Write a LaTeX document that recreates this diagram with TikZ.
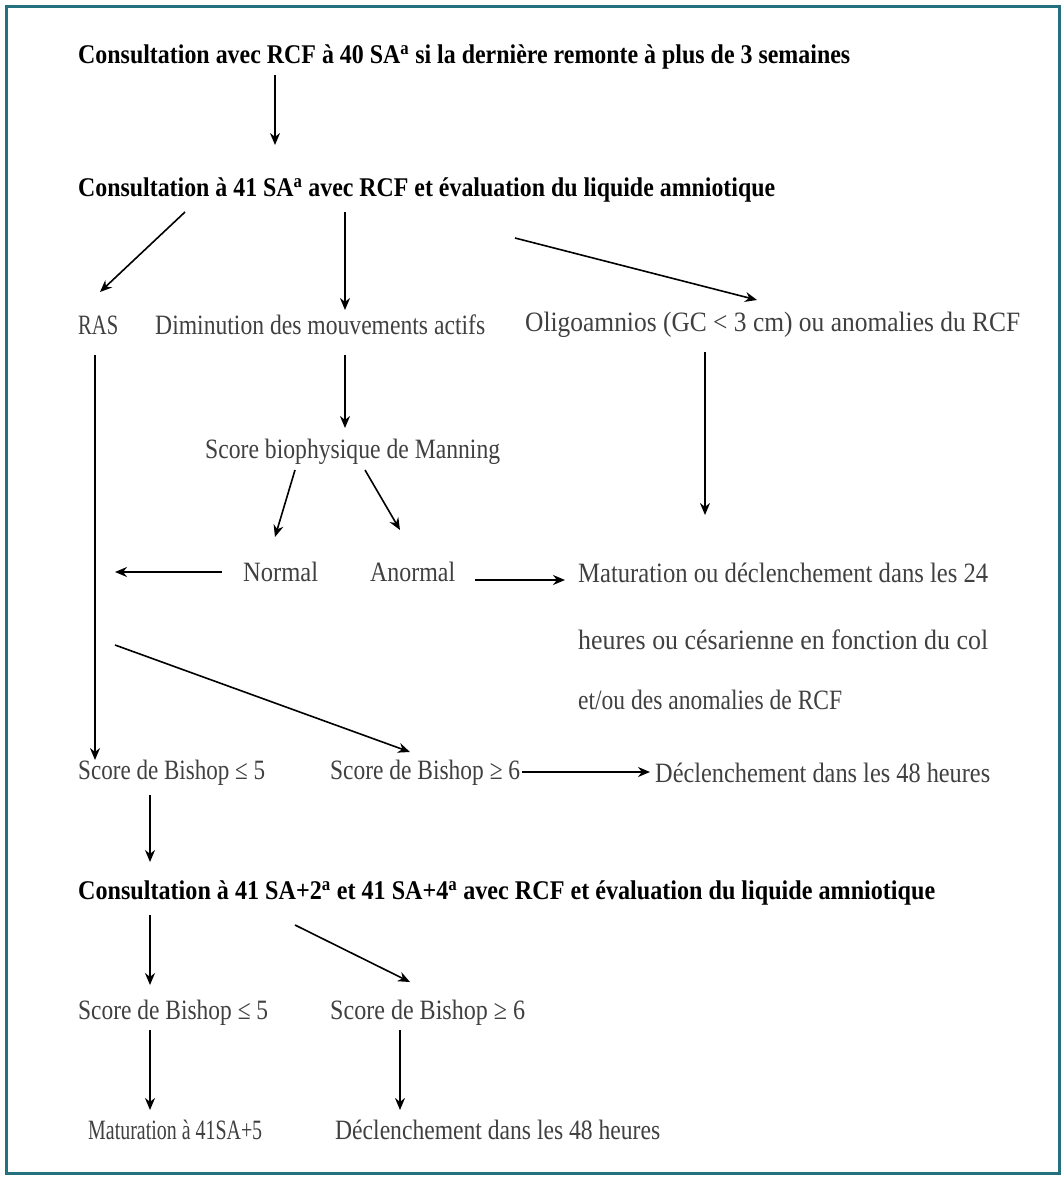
\documentclass[tikz,border=0pt]{standalone}
\usepackage{fontspec}
\setmainfont{Liberation Serif}
\usepackage{graphicx}
\usetikzlibrary{arrows.meta}
\definecolor{frameteal}{HTML}{23707F}
\definecolor{txtgray}{HTML}{404040}
\newcommand{\fw}[2]{\resizebox{#1pt}{\height}{#2}}
\begin{document}
\begin{tikzpicture}[x=1pt,y=-1pt,
  lbl/.style={inner sep=0pt,anchor=west,text=txtgray,font=\fontsize{28}{30}\selectfont},
  ttl/.style={inner sep=0pt,anchor=west,text=black,font=\fontsize{27}{30}\selectfont\bfseries},
  arr/.style={draw=black,line width=1.6pt,-{Stealth[length=12pt,width=10pt]}},
  ln/.style={draw=black,line width=1.6pt}]
\useasboundingbox (0,0) rectangle (1064,1184);
\fill[white] (0,0) rectangle (1064,1184);
\draw[frameteal,line width=3pt] (6,6) rectangle (1059,1173);

\node[ttl] (t1) at (78,57) {\fw{772}{Consultation avec RCF à 40 SA\textsuperscript{a} si la dernière remonte à plus de 3 semaines}};
\node[ttl] (t2) at (78,190) {\fw{697}{Consultation à 41 SA\textsuperscript{a} avec RCF et évaluation du liquide amniotique}};
\node[lbl] (ras) at (78,325) {\fw{40}{RAS}};
\node[lbl] (dim) at (155,325) {\fw{330}{Diminution des mouvements actifs}};
\node[lbl] (oli) at (525,325) {\fw{495}{Oligoamnios (GC < 3 cm) ou anomalies du RCF}};
\node[lbl] (man) at (205,452) {\fw{295}{Score biophysique de Manning}};
\node[lbl] (nor) at (243,572) {\fw{75}{Normal}};
\node[lbl] (anor) at (370,572) {\fw{85}{Anormal}};
\node[lbl] (mat1) at (578,573) {\fw{410}{Maturation ou déclenchement dans les 24}};
\node[lbl] (mat2) at (578,640) {\fw{410}{heures ou césarienne en fonction du col}};
\node[lbl] (mat3) at (578,700) {\fw{264}{et/ou des anomalies de RCF}};
\node[lbl] (b5) at (78,773) {\fw{187}{Score de Bishop ≤ 5}};
\node[lbl] (b6) at (330,773) {\fw{190}{Score de Bishop ≥ 6}};
\node[lbl] (dec) at (655,773) {\fw{335}{Déclenchement dans les 48 heures}};
\node[ttl] (t3) at (78,893) {\fw{857}{Consultation à 41 SA+2\textsuperscript{a} et 41 SA+4\textsuperscript{a} avec RCF et évaluation du liquide amniotique}};
\node[lbl] (b5b) at (78,1013) {\fw{190}{Score de Bishop ≤ 5}};
\node[lbl] (b6b) at (330,1013) {\fw{195}{Score de Bishop ≥ 6}};
\node[lbl] (matb) at (88,1130) {\fw{174}{Maturation à 41SA+5}};
\node[lbl] (decb) at (335,1130) {\fw{325}{Déclenchement dans les 48 heures}};

\coordinate (nl) at (115,572);
\coordinate (c1) at (115,645);

\draw[arr] ([xshift=197pt,yshift=-18pt]t1.west) -- ([xshift=197pt,yshift=45pt]t2.west);
\draw[arr] ([xshift=107pt,yshift=-22pt]t2.west) -- ([xshift=22pt,yshift=33pt]ras.west);
\draw[arr] ([xshift=267pt,yshift=-22pt]t2.west) -- ([xshift=190pt,yshift=15pt]dim.west);
\draw[arr] ([xshift=437pt,yshift=-48pt]t2.west) -- ([xshift=232pt,yshift=25pt]oli.west);
\draw[arr] ([xshift=190pt,yshift=-30pt]dim.west) -- ([xshift=140pt,yshift=24pt]man.west);
\draw[arr] ([xshift=90pt,yshift=-18pt]man.west) -- ([xshift=32pt,yshift=35pt]nor.west);
\draw[arr] ([xshift=160pt,yshift=-18pt]man.west) -- ([xshift=30pt,yshift=42pt]anor.west);
\draw[arr] ([xshift=-21pt]nor.west) -- (nl);
\draw[arr] ([xshift=105pt,yshift=-8pt]anor.west) -- ([xshift=-13pt,yshift=-7pt]mat1.west);
\draw[arr] ([xshift=180pt,yshift=-27pt]oli.west) -- ([xshift=127pt,yshift=58pt]mat1.west);
\draw[arr] ([xshift=17pt,yshift=-30pt]ras.west) -- ([xshift=17pt,yshift=13pt]b5.west);
\draw[arr] (c1) -- ([xshift=80pt,yshift=21pt]b6.west);
\draw[arr] ([xshift=2pt,yshift=1pt]b6.east) -- ([xshift=-5pt,yshift=1pt]dec.west);
\draw[arr] ([xshift=72pt,yshift=-22pt]b5.west) -- ([xshift=72pt,yshift=31pt]t3.west);
\draw[arr] ([xshift=72pt,yshift=-22pt]t3.west) -- ([xshift=72pt,yshift=28pt]b5b.west);
\draw[arr] ([xshift=217pt,yshift=-32pt]t3.west) -- ([xshift=80pt,yshift=31pt]b6b.west);
\draw[arr] ([xshift=72pt,yshift=-17pt]b5b.west) -- ([xshift=62pt,yshift=20pt]matb.west);
\draw[arr] ([xshift=70pt,yshift=-17pt]b6b.west) -- ([xshift=65pt,yshift=20pt]decb.west);
\end{tikzpicture}
\end{document}
